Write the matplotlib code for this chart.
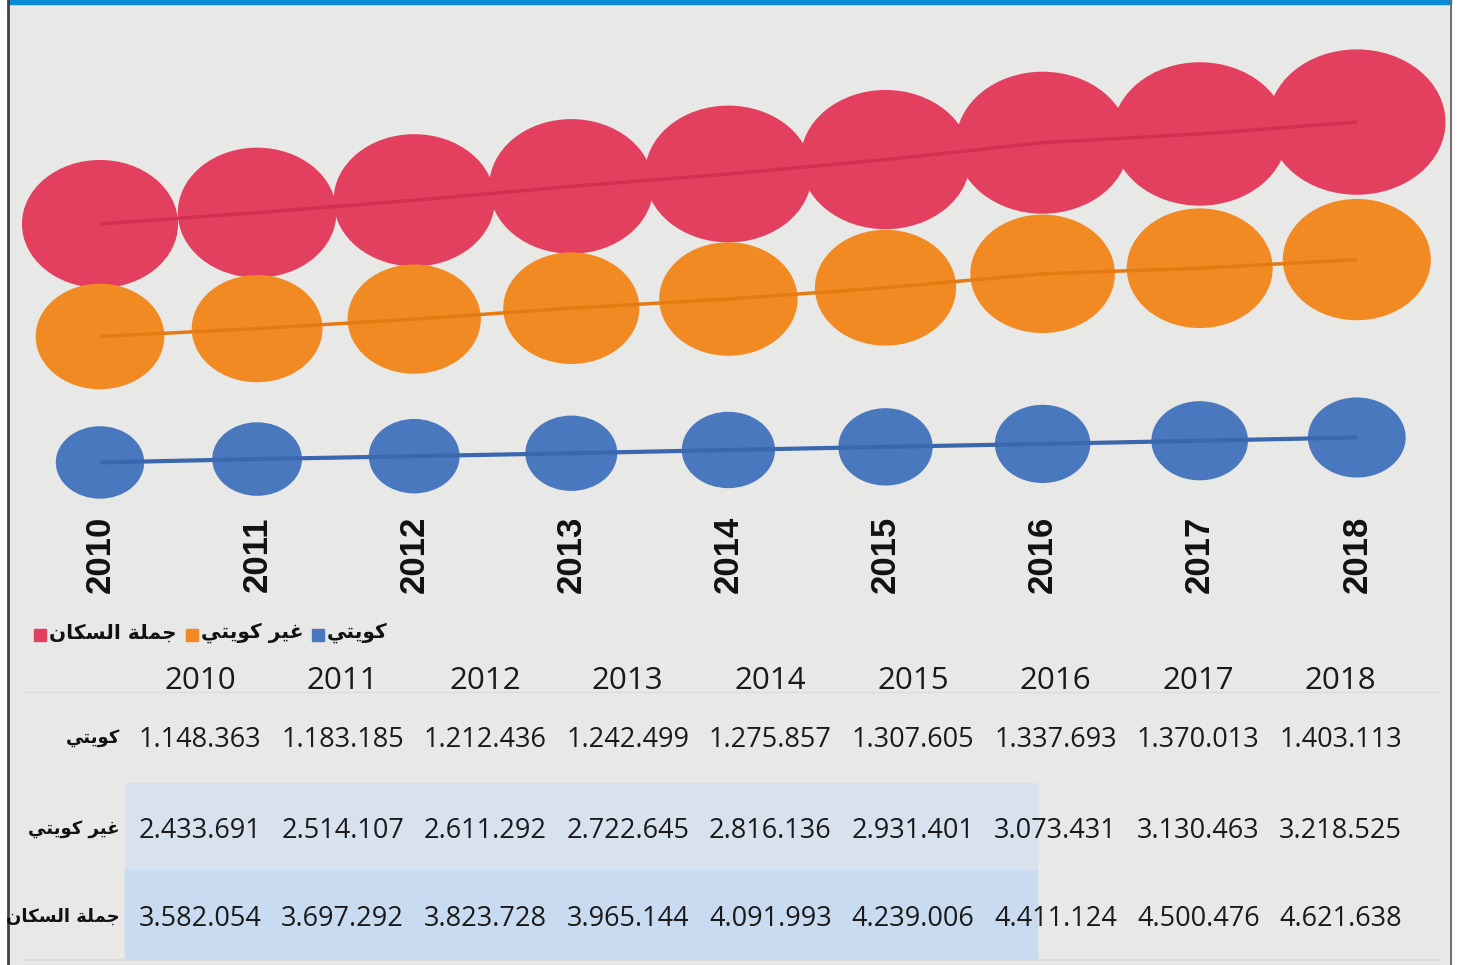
import numpy as np
import matplotlib
matplotlib.use("Agg")
import matplotlib.pyplot as plt
from matplotlib.path import Path
from matplotlib.markers import MarkerStyle
from matplotlib.patches import Rectangle

# data (population, Kuwait)
years = [2010, 2011, 2012, 2013, 2014, 2015, 2016, 2017, 2018]
kuwaiti = [1148363, 1183185, 1212436, 1242499, 1275857, 1307605, 1337693, 1370013, 1403113]
non_kuwaiti = [2433691, 2514107, 2611292, 2722645, 2816136, 2931401, 3073431, 3130463, 3218525]
total = [3582054, 3697292, 3823728, 3965144, 4091993, 4239006, 4411124, 4500476, 4621638]

label_kuwaiti = "كويتي"
label_non = "غير كويتي"
label_total = "جملة السكان"

# matplotlib has no arabic shaping, so map letters to presentation forms by hand
FORMS = {
    'ا': ('\uFE8D', '\uFE8E', None, None),
    'ت': ('\uFE95', '\uFE96', '\uFE97', '\uFE98'),
    'ة': ('\uFE93', '\uFE94', None, None),
    'ج': ('\uFE9D', '\uFE9E', '\uFE9F', '\uFEA0'),
    'ر': ('\uFEAD', '\uFEAE', None, None),
    'س': ('\uFEB1', '\uFEB2', '\uFEB3', '\uFEB4'),
    'غ': ('\uFECD', '\uFECE', '\uFECF', '\uFED0'),
    'ك': ('\uFED9', '\uFEDA', '\uFEDB', '\uFEDC'),
    'ل': ('\uFEDD', '\uFEDE', '\uFEDF', '\uFEE0'),
    'م': ('\uFEE1', '\uFEE2', '\uFEE3', '\uFEE4'),
    'ن': ('\uFEE5', '\uFEE6', '\uFEE7', '\uFEE8'),
    'و': ('\uFEED', '\uFEEE', None, None),
    'ي': ('\uFEF1', '\uFEF2', '\uFEF3', '\uFEF4'),
}


def shape(text):
    out = []
    for i, c in enumerate(text):
        if c not in FORMS:
            out.append(c)
            continue
        prev = text[i - 1] if i > 0 else None
        nxt = text[i + 1] if i + 1 < len(text) else None
        join_prev = prev in FORMS and FORMS[prev][2] is not None
        join_next = nxt in FORMS and FORMS[c][2] is not None
        iso, fin, ini, med = FORMS[c]
        if join_prev and join_next:
            out.append(med)
        elif join_prev:
            out.append(fin)
        elif join_next:
            out.append(ini)
        else:
            out.append(iso)
    return ''.join(out[::-1])


def fmt(v):
    return f"{v:,}".replace(',', '.')


red = '#e3405f'
orange = '#f28a24'
blue = '#4a78bf'
red_line = '#d42e50'
orange_line = '#e57a12'
blue_line = '#3a67ad'
bg = '#e8e8e6'

W, H = 1477, 965
fig = plt.figure(figsize=(W / 100, H / 100), dpi=100)
fig.patch.set_facecolor('white')
renderer = fig.canvas.get_renderer()

# background / table layer in pixel coords
base = fig.add_axes([0, 0, 1, 1])
base.set_xlim(0, W)
base.set_ylim(H, 0)
base.axis('off')
base.add_patch(Rectangle((8, 0), 1443, H, color=bg, zorder=0))
base.add_patch(Rectangle((8, 0), 1443, 4, color='#0a8ad4', zorder=1))
base.plot([8, 8], [0, H], color='#444444', lw=2, zorder=2)
base.plot([1451, 1451], [0, H], color='#666666', lw=1.3, zorder=2)

# shaded rows
base.add_patch(Rectangle((125, 783), 912, 87, color='#d8e2ef', zorder=1))
base.add_patch(Rectangle((125, 870), 912, 88, color='#c9dbf1', zorder=1))
base.plot([25, 1440], [692, 692], color='#dcdcdc', lw=1, zorder=1)
base.plot([25, 1440], [960, 960], color='#dadada', lw=1.5, zorder=1)

arab = ['DejaVu Sans']

# legend, laid out right-to-left
x_right = 388
for lab, col in [(label_kuwaiti, blue), (label_non, orange), (label_total, red)]:
    t = base.text(x_right, 633, shape(lab), family=arab, fontsize=14.5, fontweight='bold',
                  ha='right', va='center', color='#111111', zorder=3)
    bb = t.get_window_extent(renderer)
    sq_right = bb.x0 - 3
    base.add_patch(Rectangle((sq_right - 12, 629), 12, 12, color=col, zorder=3))
    x_right = sq_right - 12 - 9

# table
col_x = 200 + 142.6 * np.arange(len(years))
row_y = [740, 831, 919]
for x, yr in zip(col_x, years):
    base.text(x, 681, str(yr), family=['Open Sans', 'DejaVu Sans'], fontsize=22.5,
              ha='center', va='center', color='#1a1a1a')
rows = [(label_kuwaiti, kuwaiti), (label_non, non_kuwaiti), (label_total, total)]
for y, (lab, vals) in zip(row_y, rows):
    base.text(120, y - 2, shape(lab), family=arab, fontsize=13, fontweight='bold',
              ha='right', va='center', color='#111111')
    for x, v in zip(col_x, vals):
        base.text(x, y, fmt(v), family=['Open Sans', 'DejaVu Sans'],
                  fontsize=19.5, ha='center', va='center', color='#1a1a1a')

# bubble chart: y = population in millions
ax = fig.add_axes([0, 1 - 575 / H, 1, 575 / H])
ax.patch.set_alpha(0)
ax.axis('off')
step = 157.1
ax.set_xlim(-100 / step, (W - 100) / step)
ax.set_ylim(0, 575 / 98)

circ = Path.unit_circle()
ellipse = MarkerStyle(Path(circ.vertices * [1.22, 1.0], circ.codes))

idx = np.arange(len(years))
series = [(total, red, red_line, 2.5), (non_kuwaiti, orange, orange_line, 2.5),
          (kuwaiti, blue, blue_line, 3)]
z = 2
for vals, col, lcol, lw in series:
    v = np.array(vals) / 1e6
    ax.scatter(idx, v, s=3528 * v, marker=ellipse, color=col, edgecolors='none', zorder=z)
    ax.plot(idx, v, color=lcol, lw=lw, zorder=z + 1, solid_capstyle='butt')
    z += 2

for i, yr in zip(idx, years):
    ax.text(i, 0.215, str(yr), rotation=90, ha='center', va='center',
            family=['Liberation Sans', 'DejaVu Sans'], fontweight='bold', fontsize=25,
            color='#111111')

fig.savefig('out.png', dpi=100, facecolor=fig.get_facecolor())
